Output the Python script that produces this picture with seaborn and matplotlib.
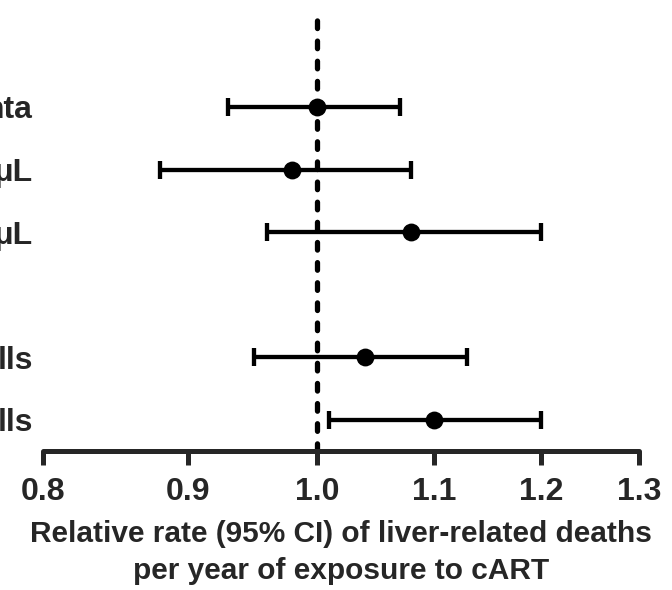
import numpy as np
import pandas as pd
import matplotlib
matplotlib.use("Agg")
import matplotlib.pyplot as plt
import seaborn as sns
from matplotlib.ticker import FixedLocator, FixedFormatter, NullLocator

# --- Data ---
row_labels = ["nta", "\u03bcL", "\u03bcL", "", "lls", "lls"]
rate = [1.00, 0.98, 1.08, np.nan, 1.04, 1.10]
ci_low = [0.93, 0.88, 0.96, np.nan, 0.95, 1.01]
ci_high = [1.07, 1.08, 1.20, np.nan, 1.13, 1.20]
x_ticks = [0.8, 0.9, 1.0, 1.1, 1.2, 1.3]
x_tick_labels = ["0.8", "0.9", "1.0", "1.1", "1.2", "1.3"]

df = pd.DataFrame({"row": range(len(row_labels)), "label": row_labels,
                   "rate": rate, "low": ci_low, "high": ci_high})
est = df.dropna()

# --- Setup ---
sns.set_theme(style="white")
plt.rcParams['font.family'] = ['Liberation Sans', 'DejaVu Sans']
plt.rcParams['font.weight'] = 'bold'
plt.rcParams['lines.scale_dashes'] = False

fig = plt.figure(figsize=(6.72, 5.9), dpi=100)
ax = fig.add_axes([43 / 672, 139 / 590, 596 / 672, 441 / 590])

# reference line at 1.0
ax.axvline(1.0, color="black", lw=3.8, dashes=(5.5, 9),
           dash_capstyle="round", zorder=1)

# confidence intervals
ax.errorbar(est["rate"], est["row"],
            xerr=[est["rate"] - est["low"], est["high"] - est["rate"]],
            fmt="none", ecolor="black", elinewidth=3.1, capsize=6.8,
            capthick=3.1, zorder=2)

# point estimates
sns.scatterplot(data=est, x="rate", y="row", color="black", s=165,
                edgecolor="black", linewidth=0, legend=False, ax=ax, zorder=3)

# --- Axes ---
ax.set_xscale("log")
ax.set_xlim(0.8, 1.3)
ax.xaxis.set_major_locator(FixedLocator(x_ticks))
ax.xaxis.set_major_formatter(FixedFormatter(x_tick_labels))
ax.xaxis.set_minor_locator(NullLocator())
ax.set_ylim(5.5, -1.55)
ax.set_yticks(df["row"])
ax.set_yticklabels(df["label"], fontsize=23, fontweight="bold")

sns.despine(ax=ax, left=True, top=True, right=True)
ax.spines["bottom"].set_linewidth(3.6)
ax.spines["bottom"].set_capstyle("round")
ax.tick_params(axis="x", direction="out", length=10, width=3.6, pad=9,
               labelsize=23, bottom=True)
ax.tick_params(axis="y", length=0, pad=7.2)
for t in ax.xaxis.get_major_ticks():
    t.tick1line.set_solid_capstyle("round")
for lbl in ax.get_xticklabels():
    lbl.set_fontweight("bold")

ax.set_ylabel("")
ax.set_xlabel("Relative rate (95% CI) of liver-related deaths\n"
              "per year of exposure to cART",
              fontsize=21.5, fontweight="bold", labelpad=9, linespacing=1.4)
ax.grid(False)

fig.savefig("out.png", dpi=100)
